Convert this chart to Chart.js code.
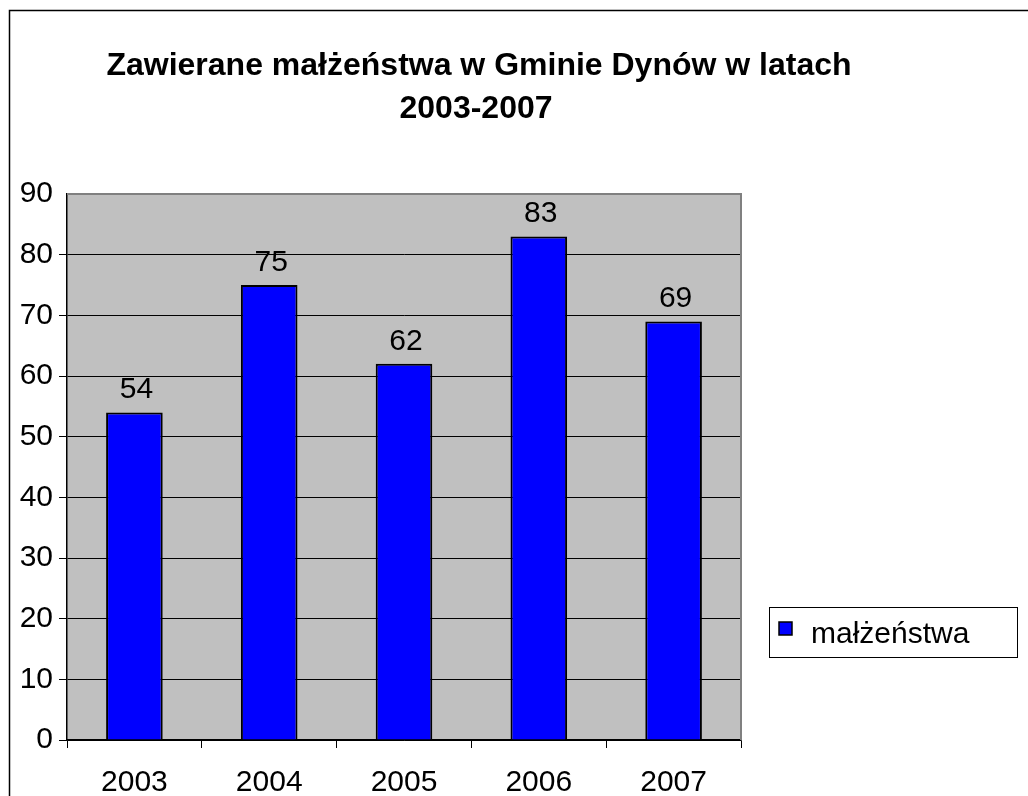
<!DOCTYPE html>
<html>
<head>
<meta charset="utf-8">
<script src="https://cdn.jsdelivr.net/npm/chart.js@4/dist/chart.umd.min.js"></script>
<style>
  html, body { margin: 0; padding: 0; background: #fff; }
  canvas { display: block; }
</style>
</head>
<body>
<canvas id="chart" width="1028" height="796"></canvas>
<script>
const years = ['2003', '2004', '2005', '2006', '2007'];
const marriages = [54, 75, 62, 83, 69];
const seriesLabel = 'małżeństwa';
const titleLines = ['Zawierane małżeństwa w Gminie Dynów w latach', '2003-2007'];

const FONT = "'Liberation Sans', Arial, sans-serif";

// frame, plot background, title, value labels and legend box
const decor = {
  id: 'decor',
  beforeDraw(chart) {
    const { ctx, chartArea: a } = chart;
    ctx.save();
    ctx.fillStyle = '#fff';
    ctx.fillRect(0, 0, chart.width, chart.height);
    ctx.strokeStyle = '#000';
    ctx.lineWidth = 1.5;
    ctx.strokeRect(9.5, 10.5, chart.width + 20, chart.height + 20);
    ctx.fillStyle = '#c0c0c0';
    ctx.fillRect(a.left, a.top, a.right - a.left, a.bottom - a.top);
    ctx.fillStyle = '#000';
    ctx.font = 'bold 32px ' + FONT;
    ctx.textAlign = 'center';
    ctx.textBaseline = 'alphabetic';
    ctx.fillText(titleLines[0], 479, 75);
    ctx.fillText(titleLines[1], 476, 118);
    ctx.restore();
  },
  beforeDatasetsDraw(chart) {
    const { ctx, chartArea: a } = chart;
    ctx.save();
    ctx.strokeStyle = '#808080';
    ctx.lineWidth = 2;
    ctx.beginPath();
    ctx.moveTo(a.left, a.top);
    ctx.lineTo(a.right, a.top);
    ctx.lineTo(a.right, a.bottom);
    ctx.stroke();
    ctx.restore();
  },
  afterDatasetsDraw(chart) {
    const { ctx } = chart;
    const meta = chart.getDatasetMeta(0);
    const ds = chart.data.datasets[0];
    ctx.save();
    ctx.fillStyle = '#000';
    ctx.font = '30px ' + FONT;
    ctx.textAlign = 'center';
    ctx.textBaseline = 'alphabetic';
    meta.data.forEach((bar, i) => {
      ctx.fillText(String(ds.data[i]), bar.x + 2, bar.y - 14);
    });

    // legend
    ctx.fillStyle = '#fff';
    ctx.fillRect(769, 607, 249, 51);
    ctx.strokeStyle = '#000';
    ctx.lineWidth = 1;
    ctx.strokeRect(769.5, 607.5, 248, 50);
    ctx.fillStyle = ds.backgroundColor;
    ctx.fillRect(779, 622, 13, 13);
    ctx.lineWidth = 1.5;
    ctx.strokeRect(779, 622, 13, 13);
    ctx.fillStyle = '#000';
    ctx.textAlign = 'left';
    ctx.fillText(ds.label, 811, 643);
    ctx.restore();
  }
};

new Chart(document.getElementById('chart'), {
  type: 'bar',
  data: {
    labels: years,
    datasets: [{
      label: seriesLabel,
      data: marriages,
      backgroundColor: '#0000ff',
      borderColor: '#000',
      borderWidth: 2,
      barPercentage: 0.42,
      categoryPercentage: 1
    }]
  },
  options: {
    responsive: false,
    animation: false,
    layout: {
      padding: { top: 194, right: 287, left: 0, bottom: 0 }
    },
    scales: {
      x: {
        grid: {
          offset: true,
          drawOnChartArea: false,
          color: '#000',
          tickLength: 8
        },
        border: { color: '#000', width: 1.5 },
        ticks: {
          color: '#000',
          padding: 17,
          font: { size: 30, family: FONT }
        },
        afterFit(scale) { scale.height = 56; }
      },
      y: {
        min: 0,
        max: 90,
        grid: {
          color: (c) => (c.tick && c.tick.value === 90 ? 'rgba(0,0,0,0)' : '#000'),
          tickLength: 8
        },
        border: { color: '#000', width: 1.5 },
        ticks: {
          stepSize: 10,
          color: '#000',
          padding: 6,
          font: { size: 30, family: FONT }
        },
        afterFit(scale) { scale.width = 67; }
      }
    },
    plugins: {
      legend: { display: false },
      tooltip: { enabled: false },
      title: { display: false }
    }
  },
  plugins: [decor]
});
</script>
</body>
</html>
